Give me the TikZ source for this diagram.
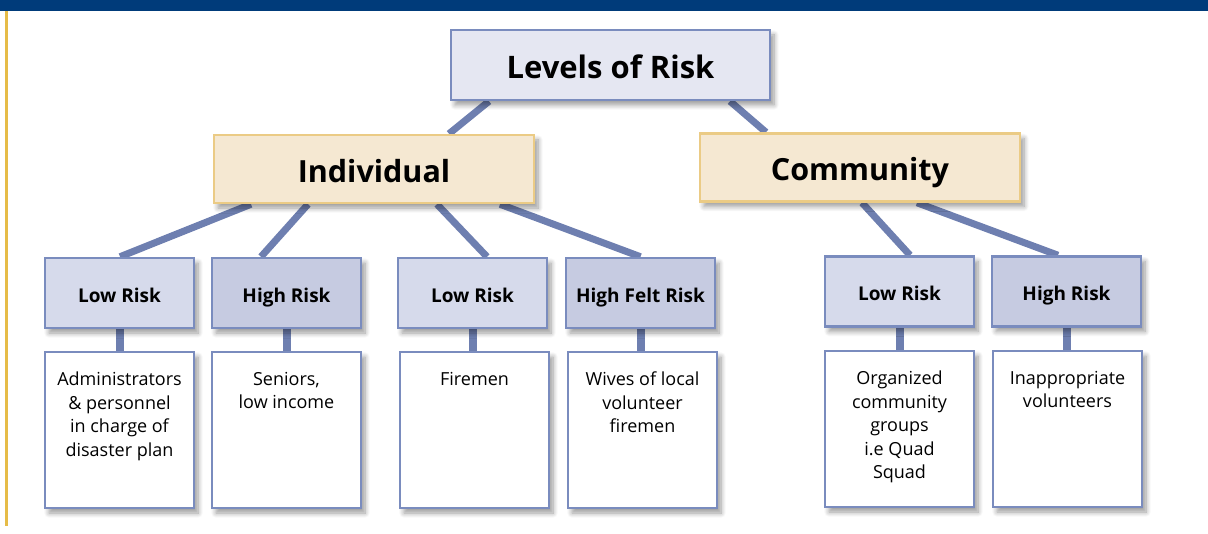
\documentclass[tikz,border=0pt]{standalone}
\usepackage{fontspec}
\setmainfont{Open Sans}
\usetikzlibrary{calc,shadows.blur,backgrounds}
\definecolor{band}{HTML}{003B7A}
\definecolor{gold}{HTML}{E6BC48}
\definecolor{edgeblue}{HTML}{7A8CBE}
\definecolor{linkblue}{HTML}{6E7FB0}
\definecolor{topfill}{HTML}{E5E7F2}
\definecolor{tanfill}{HTML}{F5E8D2}
\definecolor{tanedge}{HTML}{EBCB85}
\definecolor{lowfill}{HTML}{D6DAEB}
\definecolor{highfill}{HTML}{C6CBE1}
\tikzset{
  boxshadow/.style={blur shadow={shadow xshift=4pt,shadow yshift=-5pt,shadow blur steps=8,shadow blur radius=5pt,shadow blur extra rounding=0pt,shadow opacity=40}},
  topbox/.style={draw=edgeblue,line width=2.5pt,fill=topfill,minimum width=319pt,minimum height=70pt,inner sep=0pt,boxshadow,text height=27pt,text depth=0pt,font=\fontsize{31}{36}\selectfont\bfseries},
  groupbox/.style={draw=tanedge,line width=2.5pt,fill=tanfill,minimum width=320pt,minimum height=68pt,inner sep=0pt,boxshadow,text height=26.5pt,text depth=0pt,font=\fontsize{30.5}{36}\selectfont\bfseries},
  lowbox/.style={draw=edgeblue,line width=2.5pt,fill=lowfill,minimum width=149pt,minimum height=70pt,inner sep=0pt,boxshadow,text height=19pt,text depth=0pt,font=\fontsize{19}{22}\selectfont\bfseries},
  highbox/.style={lowbox,fill=highfill},
  descbox/.style={draw=edgeblue,line width=2.5pt,fill=white,minimum width=149pt,minimum height=156pt,inner sep=0pt,boxshadow},
  desctext/.style={anchor=north,align=center,inner sep=0pt,font=\fontsize{18}{23.5}\selectfont},
  link/.style={draw=linkblue,line width=7pt},
  stem/.style={draw=linkblue,line width=8pt},
}
\begin{document}
\begin{tikzpicture}[x=1pt,y=-1pt]
\useasboundingbox (0,0) rectangle (1208,534);
\fill[band] (0,0) rectangle (1208,11);
\fill[gold] (5.3,11) rectangle (8.3,526);

% nodes
\node[topbox] (top) at (610.5,65) {Levels of Risk};
\node[groupbox] (ind) at (374,169) {Individual};
\node[groupbox] (com) at (860,167.5) {Community};

\node[lowbox] (lr1) at (119.5,293) {Low Risk};
\node[highbox] (hr1) at (286.5,293) {High Risk};
\node[lowbox] (lr2) at (472.5,293) {Low Risk};
\node[highbox] (hfr) at (640.5,293) {High Felt Risk};
\node[lowbox] (lr3) at (899.5,291.5) {Low Risk};
\node[highbox] (hr3) at (1066.5,291.5) {High Risk};

\node[descbox] (d1) at (119.5,430) {};
\node[descbox] (d2) at (286.5,430) {};
\node[descbox] (d3) at (474.5,430) {};
\node[descbox] (d4) at (642.5,430) {};
\node[descbox] (d5) at (899.5,429) {};
\node[descbox] (d6) at (1067.5,429) {};

\node[desctext] (t1) at ($(d1.north)+(0,21)$) {Administrators\\\& personnel\\in charge of\\disaster plan};
\node[desctext] (t2) at ($(d2.north)+(0,21)$) {Seniors,\\low income};
\node[desctext] (t3) at ($(d3.north)+(0,21)$) {Firemen};
\node[desctext] (t4) at ($(d4.north)+(0,21)$) {Wives of local\\volunteer\\firemen};
\node[desctext] (t5) at ($(d5.north)+(0,21)$) {Organized\\community\\groups\\i.e Quad\\Squad};
\node[desctext] (t6) at ($(d6.north)+(0,21)$) {Inappropriate\\volunteers};

% connectors behind boxes
\begin{scope}[on background layer]
\draw[link] ($(top.south)+(-121.5,0)$) -- ($(ind.north)+(75,0)$);
\draw[link] ($(top.south)+(119.5,0)$) -- ($(com.north)+(-94,0)$);
\draw[link] ($(ind.south)+(-123,0)$) -- ($(lr1.north)+(0.5,0)$);
\draw[link] ($(ind.south)+(-66,0)$) -- ($(hr1.north)+(-25.5,0)$);
\draw[link] ($(ind.south)+(63,0)$) -- ($(lr2.north)+(14.5,0)$);
\draw[link] ($(ind.south)+(126,0)$) -- (hfr.north);
\draw[link] ($(com.south)+(2,0)$) -- ($(lr3.north)+(10.5,0)$);
\draw[link] ($(com.south)+(57,0)$) -- ($(hr3.north)+(-8.5,0)$);
\draw[stem] (lr1.south) -- (d1.north);
\draw[stem] (hr1.south) -- (d2.north);
\draw[stem] (lr2.south) -- (lr2.south |- d3.north);
\draw[stem] (hfr.south) -- (hfr.south |- d4.north);
\draw[stem] (lr3.south) -- (d5.north);
\draw[stem] (hr3.south) -- (hr3.south |- d6.north);
\end{scope}
\end{tikzpicture}
\end{document}
